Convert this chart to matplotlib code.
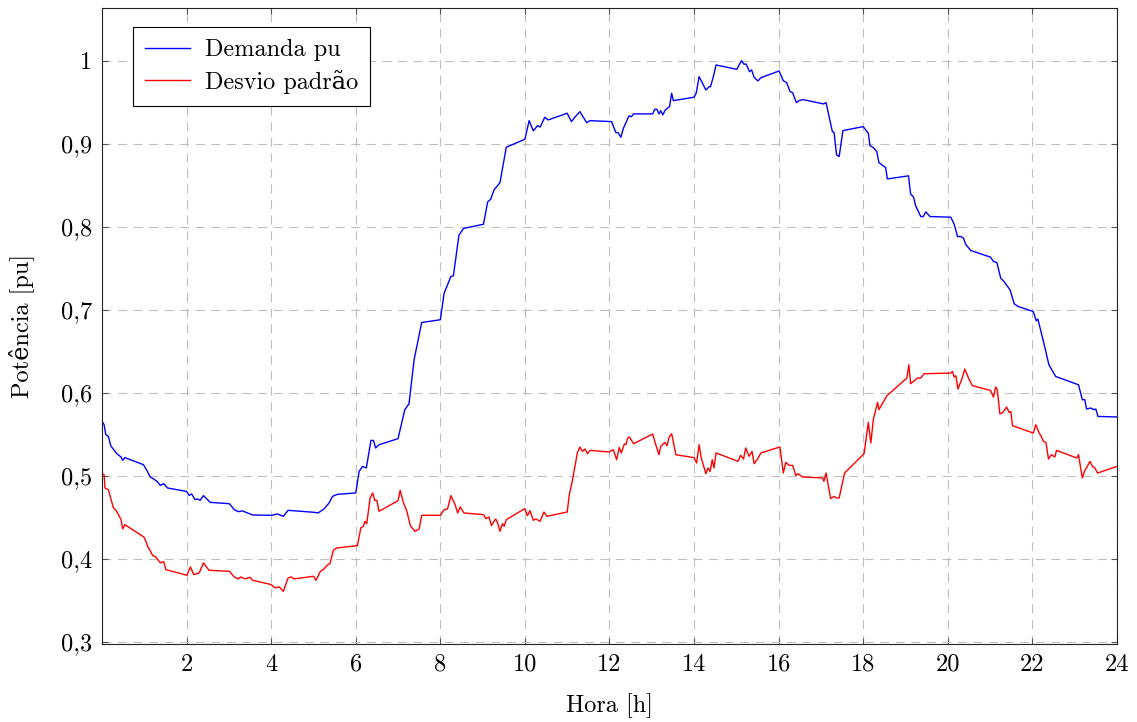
import matplotlib
matplotlib.use("Agg")
import matplotlib.pyplot as plt

plt.rcParams['font.family'] = ['cmr10', 'DejaVu Serif']
plt.rcParams['mathtext.fontset'] = 'cm'
plt.rcParams['axes.formatter.use_mathtext'] = True

# Demanda pu (hora, valor)
t_dem = [0.0, 0.05, 0.09, 0.15, 0.21, 0.27, 0.35, 0.45, 0.49, 0.54, 0.98, 1.06, 1.14,
         1.22, 1.30, 1.38, 1.46, 1.55, 2.0, 2.06, 2.12, 2.2, 2.26, 2.32, 2.4, 2.56,
         3.01, 3.13, 3.22, 3.32, 3.56, 4.01, 4.15, 4.29, 4.40, 5.02, 5.11, 5.25,
         5.37, 5.45, 5.57, 6.0, 6.08, 6.16, 6.25, 6.36, 6.42, 6.47, 6.55, 7.0, 7.16,
         7.26, 7.38, 7.56, 8.0, 8.09, 8.25, 8.31, 8.44, 8.55, 9.02, 9.12, 9.19, 9.27,
         9.41, 9.56, 10.0, 10.1, 10.2, 10.3, 10.36, 10.47, 10.55, 11.0, 11.1, 11.18,
         11.3, 11.46, 11.54, 12.05, 12.15, 12.2, 12.27, 12.33, 12.46, 12.52, 12.57,
         13.02, 13.07, 13.12, 13.17, 13.21, 13.26, 13.32, 13.42, 13.47, 13.51, 14.0,
         14.05, 14.12, 14.16, 14.28, 14.36, 14.39, 14.46, 14.52, 15.01, 15.12, 15.18,
         15.23, 15.31, 15.36, 15.42, 15.51, 15.58, 16.01, 16.11, 16.19, 16.27, 16.33,
         16.42, 16.48, 16.58, 17.06, 17.12, 17.27, 17.31, 17.37, 17.43, 17.52, 18.0,
         18.07, 18.12, 18.16, 18.24, 18.32, 18.37, 18.53, 18.57, 19.07, 19.12, 19.19,
         19.24, 19.36, 19.42, 19.48, 19.58, 20.07, 20.15, 20.23, 20.31, 20.37, 20.42,
         20.54, 21.01, 21.08, 21.16, 21.25, 21.33, 21.47, 21.57, 21.66, 22.02, 22.09,
         22.13, 22.27, 22.39, 22.55, 23.09, 23.18, 23.24, 23.28, 23.38, 23.46, 23.5,
         23.55, 24.0]
v_dem = [0.566, 0.5616, 0.5496, 0.5475, 0.536, 0.532, 0.5267, 0.5228, 0.5187, 0.522,
         0.5135, 0.5066, 0.4987, 0.4963, 0.4934, 0.4886, 0.4906, 0.4854, 0.4813,
         0.4765, 0.4782, 0.4714, 0.4722, 0.4705, 0.4762, 0.4681, 0.4665, 0.4593,
         0.4569, 0.4578, 0.4529, 0.4525, 0.4541, 0.4513, 0.4585, 0.4561, 0.4553,
         0.4602, 0.4674, 0.4753, 0.4778, 0.4794, 0.5054, 0.5114, 0.5095, 0.5427,
         0.5427, 0.5336, 0.5375, 0.5448, 0.5797, 0.5869, 0.640, 0.6847, 0.688, 0.720,
         0.740, 0.741, 0.790, 0.798, 0.803, 0.830, 0.833, 0.8444, 0.853, 0.8958,
         0.9054, 0.9278, 0.9154, 0.9218, 0.920, 0.9319, 0.9286, 0.9367, 0.9266,
         0.9319, 0.9386, 0.9254, 0.9278, 0.9266, 0.9134, 0.9134, 0.9078, 0.9187,
         0.9335, 0.9326, 0.9359, 0.9359, 0.9415, 0.9415, 0.9359, 0.9398, 0.9347,
         0.9407, 0.9447, 0.9608, 0.9519, 0.956, 0.9608, 0.9808, 0.9768, 0.9647,
         0.9687, 0.9687, 0.9816, 0.9948, 0.9896, 1.0, 0.9957, 0.996, 0.9868, 0.9888,
         0.980, 0.9756, 0.9795, 0.9876, 0.9759, 0.9735, 0.9627, 0.9615, 0.9495,
         0.9519, 0.9531, 0.9479, 0.9495, 0.9146, 0.9134, 0.8865, 0.8845, 0.9158,
         0.9206, 0.9158, 0.9126, 0.8977, 0.8953, 0.8905, 0.8773, 0.8712, 0.8576,
         0.8613, 0.8396, 0.8356, 0.8252, 0.8123, 0.8123, 0.8179, 0.8123, 0.8115,
         0.8031, 0.7882, 0.7882, 0.7863, 0.7791, 0.7714, 0.7634, 0.7581, 0.7569,
         0.7382, 0.7340, 0.7241, 0.7072, 0.704, 0.698, 0.6868, 0.6888, 0.660, 0.6338,
         0.6197, 0.6097, 0.5917, 0.5917, 0.5805, 0.5817, 0.5797, 0.5805, 0.5716,
         0.5709]

# Desvio padrão (hora, valor)
t_dev = [0.0, 0.05, 0.07, 0.15, 0.21, 0.27, 0.33, 0.41, 0.45, 0.49, 0.54, 1.0, 1.08,
         1.2, 1.27, 1.38, 1.46, 1.51, 2.01, 2.09, 2.17, 2.3, 2.4, 2.53, 3.01, 3.13,
         3.22, 3.28, 3.38, 3.5, 3.56, 4.0, 4.09, 4.19, 4.29, 4.40, 4.48, 4.54, 5.0,
         5.06, 5.16, 5.25, 5.33, 5.39, 5.47, 5.55, 6.04, 6.12, 6.18, 6.22, 6.26, 6.34,
         6.40, 6.45, 6.5, 6.55, 7.0, 7.05, 7.13, 7.21, 7.29, 7.40, 7.5, 7.56, 8.0,
         8.09, 8.17, 8.25, 8.35, 8.41, 8.47, 8.56, 9.02, 9.08, 9.15, 9.21, 9.27,
         9.31, 9.35, 9.41, 9.47, 9.51, 9.56, 10.0, 10.06, 10.12, 10.2, 10.26, 10.36,
         10.45, 10.52, 11.0, 11.05, 11.12, 11.24, 11.3, 11.36, 11.42, 11.48, 11.54,
         11.99, 12.09, 12.17, 12.23, 12.28, 12.35, 12.39, 12.43, 12.47, 12.57, 13.02,
         13.07, 13.17, 13.21, 13.31, 13.36, 13.41, 13.47, 13.57, 14.0, 14.06, 14.12,
         14.17, 14.28, 14.33, 14.38, 14.43, 14.47, 14.52, 15.04, 15.1, 15.17, 15.22,
         15.30, 15.37, 15.42, 15.50, 15.58, 16.03, 16.11, 16.17, 16.25, 16.33, 16.41,
         16.46, 16.56, 17.04, 17.07, 17.12, 17.23, 17.31, 17.37, 17.43, 17.56, 18.02,
         18.12, 18.18, 18.24, 18.34, 18.37, 18.56, 19.03, 19.08, 19.12, 19.28, 19.36,
         19.44, 20.07, 20.11, 20.15, 20.19, 20.24, 20.34, 20.40, 20.50, 20.58, 21.01,
         21.08, 21.13, 21.17, 21.23, 21.29, 21.39, 21.45, 21.49, 21.53, 22.02, 22.08,
         22.16, 22.21, 22.26, 22.32, 22.38, 22.45, 22.53, 22.57, 23.05, 23.09, 23.18,
         23.24, 23.28, 23.36, 23.42, 23.48, 23.54, 24.0]
v_dev = [0.503, 0.5014, 0.4854, 0.4834, 0.4722, 0.4614, 0.4585, 0.4513, 0.4473,
         0.4361, 0.4413, 0.4260, 0.4152, 0.4040, 0.4024, 0.3952, 0.3968, 0.3871,
         0.3803, 0.3904, 0.3811, 0.3831, 0.3952, 0.3863, 0.3851, 0.3783, 0.3759,
         0.3783, 0.3759, 0.3779, 0.3743, 0.3691, 0.3651, 0.3663, 0.3610, 0.3771,
         0.3783, 0.3759, 0.3791, 0.3743, 0.3847, 0.3879, 0.3928, 0.3943, 0.4104,
         0.4132, 0.4160, 0.4373, 0.4393, 0.4453, 0.4425, 0.4734, 0.4794, 0.4705,
         0.4705, 0.4573, 0.4701, 0.4826, 0.4674, 0.4573, 0.4401, 0.4332, 0.4361,
         0.4525, 0.4525, 0.4593, 0.4602, 0.4762, 0.4653, 0.4553, 0.4626, 0.4553,
         0.4533, 0.4485, 0.4505, 0.4401, 0.4453, 0.4481, 0.444, 0.4332, 0.4425,
         0.4393, 0.4473, 0.4606, 0.4521, 0.4581, 0.4465, 0.4481, 0.4453, 0.4565,
         0.4513, 0.4565, 0.4774, 0.4934, 0.5276, 0.5348, 0.5295, 0.5324, 0.5267,
         0.5307, 0.5288, 0.5315, 0.5195, 0.5343, 0.5276, 0.5384, 0.5376, 0.5456,
         0.5468, 0.5387, 0.5504, 0.5415, 0.5255, 0.5355, 0.5403, 0.5363, 0.5468,
         0.5508, 0.5255, 0.5219, 0.5155, 0.5376, 0.5215, 0.5026, 0.5095, 0.5054,
         0.5195, 0.5095, 0.5276, 0.5175, 0.5247, 0.5203, 0.5336, 0.5235, 0.5295,
         0.5147, 0.5203, 0.5276, 0.5348, 0.5035, 0.5163, 0.5126, 0.5126, 0.5002,
         0.5026, 0.4987, 0.4975, 0.4934, 0.5035, 0.4726, 0.4753, 0.4734, 0.4734,
         0.5035, 0.5267, 0.5644, 0.5396, 0.5684, 0.5885, 0.5797, 0.5965, 0.6178,
         0.6338, 0.6110, 0.6178, 0.6178, 0.6230, 0.6238, 0.6258, 0.6190, 0.6206,
         0.6046, 0.6178, 0.6287, 0.6166, 0.6086, 0.6029, 0.5949, 0.6070, 0.6037,
         0.5749, 0.5757, 0.5829, 0.5764, 0.5776, 0.5604, 0.5516, 0.5616, 0.5516,
         0.5475, 0.5415, 0.5403, 0.5203, 0.5255, 0.5227, 0.5307, 0.5215, 0.5255,
         0.4975, 0.5066, 0.5095, 0.5175, 0.5114, 0.5095, 0.5034, 0.5114]

x_ticks = [2, 4, 6, 8, 10, 12, 14, 16, 18, 20, 22, 24]
y_ticks = [0.3, 0.4, 0.5, 0.6, 0.7, 0.8, 0.9, 1.0]
y_tick_labels = ['0,3', '0,4', '0,5', '0,6', '0,7', '0,8', '0,9', '1']

fs = 17.5

fig = plt.figure(figsize=(11.37, 7.22), dpi=100)
ax = fig.add_axes([0.0897, 0.108, 0.8927, 0.881])

ax.plot(t_dem, v_dem, color='#0000ff', lw=1.0, label='Demanda pu')
ax.plot(t_dev, v_dev, color='#ff0000', lw=1.0, label='Desvio padrão')

ax.set_xlim(0, 24)
ax.set_ylim(0.2975, 1.0635)
ax.set_xticks(x_ticks)
ax.set_xticklabels([str(v) for v in x_ticks])
ax.set_yticks(y_ticks)
ax.set_yticklabels(y_tick_labels)

ax.grid(True, color='#bfbfbf', linestyle=(0, (8, 6)), lw=0.8)
ax.tick_params(direction='in', top=True, right=True, length=4, width=0.8,
               color='#555555', labelsize=fs, pad=7)
for s in ax.spines.values():
    s.set_linewidth(0.8)
    s.set_color('#222222')

ax.set_xlabel('Hora [h]', fontsize=fs, labelpad=12.5)
ax.set_ylabel('Potência [pu]', fontsize=fs, labelpad=19.5)

leg = ax.legend(loc='upper left', fontsize=fs, fancybox=False, framealpha=1,
                edgecolor='black', handlelength=1.85, borderpad=0.5,
                labelspacing=0.35, handletextpad=0.6, borderaxespad=0,
                bbox_to_anchor=(0.0305, 0.970))
leg.get_frame().set_linewidth(0.8)

fig.savefig('out.png', dpi=100)
